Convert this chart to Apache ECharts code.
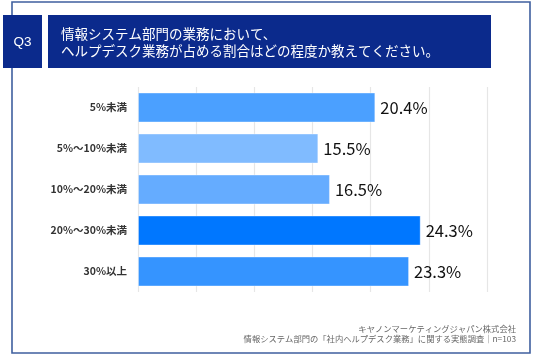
<!DOCTYPE html>
<html>
<head>
<meta charset="utf-8">
<script src="https://cdn.jsdelivr.net/npm/echarts@6/dist/echarts.min.js"></script>
<style>
html,body{margin:0;padding:0;background:#fff;}
#c{width:536px;height:356px;}
</style>
</head>
<body>
<div id="c"></div>
<script>
var categories = ['5%未満', '5%～10%未満', '10%～20%未満', '20%～30%未満', '30%以上'];
var values = [20.4, 15.5, 16.5, 24.3, 23.3];
var barColors = ['#4ba0ff', '#80bbff', '#65acff', '#0077ff', '#3594ff'];
var axisTicks = [0, 5, 10, 15, 20, 25, 30];
var titleLines = ['情報システム部門の業務において、', 'ヘルプデスク業務が占める割合はどの程度か教えてください。'];
var qLabel = 'Q3';
var footerLines = ['キヤノンマーケティングジャパン株式会社', '情報システム部門の「社内ヘルプデスク業務」に関する実態調査｜n=103'];

var FONT = '"Noto Sans CJK JP", "Noto Sans", sans-serif';
var chart = echarts.init(document.getElementById('c'), null, {renderer: 'canvas'});

var option = {
  animation: false,
  backgroundColor: '#ffffff',
  grid: {left: 138, right: 49, top: 87, height: 205, containLabel: false},
  xAxis: {
    type: 'value',
    min: axisTicks[0],
    max: axisTicks[axisTicks.length - 1],
    interval: axisTicks[1] - axisTicks[0],
    axisLabel: {show: false},
    axisLine: {show: false},
    axisTick: {show: false},
    splitLine: {show: true, lineStyle: {color: '#e6e6e6', width: 1.2}}
  },
  yAxis: {
    type: 'category',
    data: categories,
    inverse: true,
    axisLine: {show: false},
    axisTick: {show: false},
    axisLabel: {color: '#333333', fontSize: 10.5, fontWeight: 'bold', fontFamily: FONT, margin: 11}
  },
  series: [{
    type: 'bar',
    data: values.map(function (v, i) {
      return {value: v, itemStyle: {color: barColors[i]}};
    }),
    barCategoryGap: '27%',
    itemStyle: {borderColor: 'rgba(255,255,255,0.35)', borderWidth: 1},
    label: {
      show: true,
      position: 'right',
      distance: 5,
      formatter: function (p) { return p.value.toFixed(1) + '%'; },
      color: '#111111',
      fontSize: 16.5,
      fontFamily: FONT
    }
  }],
  graphic: [
    {type: 'rect', z: 0, shape: {x: 12, y: 2, width: 518, height: 351},
     style: {fill: 'none', stroke: '#3f5f9f', lineWidth: 1.6}},
    {type: 'rect', z: 5, shape: {x: 3, y: 15, width: 39, height: 53},
     style: {fill: '#0b2a8c'}},
    {type: 'rect', z: 5, shape: {x: 48, y: 15, width: 443, height: 53},
     style: {fill: '#0b2a8c'}},
    {type: 'text', z: 6, style: {x: 22.5, y: 42, text: qLabel, fill: '#ffffff',
      font: '13.5px "Liberation Sans", Arial, sans-serif', textAlign: 'center', textVerticalAlign: 'middle'}},
    {type: 'text', z: 6, style: {x: 61, y: 33.5, text: titleLines[0], fill: '#ffffff',
      font: '13.5px ' + FONT, textAlign: 'left', textVerticalAlign: 'middle'}},
    {type: 'text', z: 6, style: {x: 61, y: 50.5, text: titleLines[1], fill: '#ffffff',
      font: '13.5px ' + FONT, textAlign: 'left', textVerticalAlign: 'middle'}},
    {type: 'text', z: 6, style: {x: 516, y: 329, text: footerLines[0], fill: '#666666',
      font: '8.3px ' + FONT, textAlign: 'right', textVerticalAlign: 'middle'}},
    {type: 'text', z: 6, style: {x: 516, y: 339, text: footerLines[1], fill: '#666666',
      font: '8.3px ' + FONT, textAlign: 'right', textVerticalAlign: 'middle'}}
  ]
};
chart.setOption(option);
</script>
</body>
</html>
